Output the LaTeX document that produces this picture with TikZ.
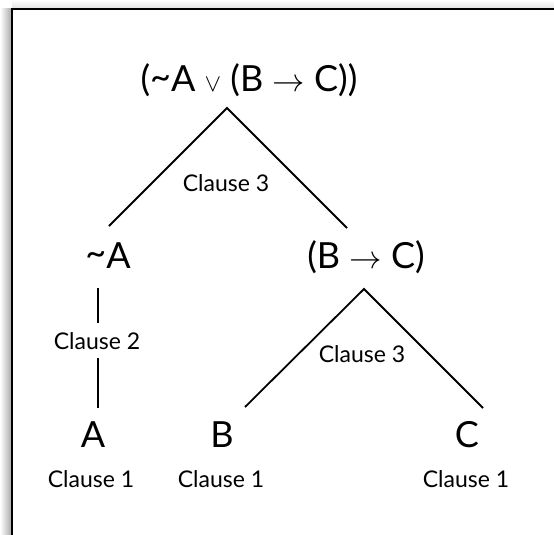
\documentclass[tikz,border=0pt]{standalone}
\usepackage{fontspec}
\setmainfont{Lato}
\newcommand{\bigarrow}{\scalebox{1.3}{$\rightarrow$}}
\newcommand{\negsign}{\raisebox{0.08em}{\textasciitilde}}
\begin{document}
\begin{tikzpicture}[x=1pt,y=-1pt,
  big/.style={font=\fontsize{36}{38}\selectfont, anchor=base, inner sep=0pt},
  small/.style={font=\fontsize{23}{26}\selectfont, anchor=base, inner sep=0pt},
  edge/.style={line width=1.8pt}]
\useasboundingbox (0,0) rectangle (554,535);
% shadow
\shade[left color=white, right color=black!35] (0,9) rectangle (12,535);
\shade[top color=white, bottom color=black!12] (12,0) rectangle (554,9);
\fill[white] (12,9) rectangle (560,540);
\draw[line width=2.6pt] (12,540) -- (12,9) -- (560,9);
% nodes
\node[big] (root) at (249,92) {(\negsign A $\vee$ (B \bigarrow{} C))};
\node[big] (na) at (108,268) {\negsign A};
\node[big] (bc) at (366,268) {(B \bigarrow{} C)};
\node[big] (a) at (93,447) {A};
\node[big] (b) at (222,447) {B};
\node[big] (c) at (467,447) {C};
\node[small] (l3a) at (226,191) {Clause 3};
\node[small] (l3b) at (362,362) {Clause 3};
\node[small] (l2) at (97,349) {Clause 2};
\node[small] (l1a) at (91,487) {Clause 1};
\node[small] (l1b) at (221,487) {Clause 1};
\node[small] (l1c) at (466,487) {Clause 1};
% connector points
\coordinate (ap1) at (227,108);
\coordinate (e1) at (109,226);
\coordinate (e2) at (347,228);
\coordinate (ap2) at (364,289);
\coordinate (e3) at (245,407);
\coordinate (e4) at (483,408);
\coordinate (v1) at (98,288);
\coordinate (v2) at (98,323);
\coordinate (v3) at (98,358);
\coordinate (v4) at (98,408);
\draw[edge] (e1) -- (ap1) -- (e2);
\draw[edge] (e3) -- (ap2) -- (e4);
\draw[edge] (v1) -- (v2);
\draw[edge] (v3) -- (v4);
\end{tikzpicture}
\end{document}
